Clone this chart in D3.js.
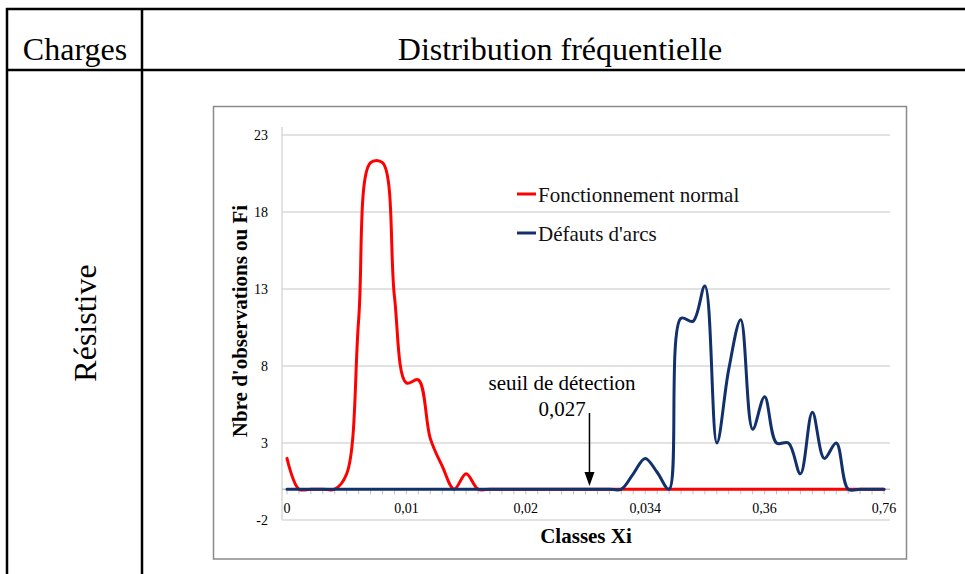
<!DOCTYPE html>
<html>
<head>
<meta charset="utf-8">
<script src="https://cdn.jsdelivr.net/npm/d3@7/dist/d3.min.js"></script>
<style>
  html, body { margin: 0; padding: 0; background: #fff; }
  svg { display: block; }
  svg text { font-family: "Liberation Serif", "Times New Roman", serif; }
</style>
</head>
<body>
<svg id="chart" width="965" height="574"></svg>
<script>
// ---- data ----
const categoryIndex = d3.range(51);
const tickIndices = [0, 10, 20, 30, 40, 50];
const tickLabels = ["0", "0,01", "0,02", "0,034", "0,36", "0,76"];
const yTicks = [-2, 3, 8, 13, 18, 23];

const normalValues = [2.0, 0, 0, 0, 0, 1.0, 11.0, 21.2, 21.2, 12.5,
  6.9, 7.1, 3.3, 1.5, 0, 1.0, 0, 0, 0, 0,
  0, 0, 0, 0, 0, 0, 0, 0, 0, 0,
  0, 0, 0, 0, 0, 0, 0, 0, 0, 0,
  0, 0, 0, 0, 0, 0, 0, 0, 0, 0, 0];
const arcValues = [0, 0, 0, 0, 0, 0, 0, 0, 0, 0,
  0, 0, 0, 0, 0, 0, 0, 0, 0, 0,
  0, 0, 0, 0, 0, 0, 0, 0, 0, 1.0,
  2.0, 1.1, 0, 11.1, 10.9, 13.2, 3.0, 7.8, 11.0, 3.9,
  6.0, 3.0, 3.0, 1.0, 5.0, 2.0, 3.0, 0, 0, 0, 0];
const seriesNames = ["Fonctionnement normal", "Défauts d'arcs"];
const seriesColors = ["#ff0000", "#12306b"];
const threshold = { label1: "seuil de détection", label2: "0,027", index: 25.5 };

// ---- drawing ----
const svg = d3.select("#chart");
const FONT = "Liberation Serif";

// table
const tbl = svg.append("g").attr("stroke", "#000").attr("stroke-width", 2.5);
tbl.append("line").attr("x1", 6).attr("x2", 965).attr("y1", 9).attr("y2", 9);
tbl.append("line").attr("x1", 6).attr("x2", 965).attr("y1", 70).attr("y2", 70);
tbl.append("line").attr("x1", 7).attr("x2", 7).attr("y1", 8).attr("y2", 574);
tbl.append("line").attr("x1", 142).attr("x2", 142).attr("y1", 8).attr("y2", 574);

svg.append("text").attr("x", 75).attr("y", 60).attr("text-anchor", "middle")
  .attr("font-family", FONT).attr("font-size", 32).text("Charges");
svg.append("text").attr("x", 560).attr("y", 60).attr("text-anchor", "middle")
  .attr("font-family", FONT).attr("font-size", 32).text("Distribution fréquentielle");
svg.append("text").attr("transform", "translate(96,323) rotate(-90)")
  .attr("text-anchor", "middle").attr("font-family", FONT).attr("font-size", 32).text("Résistive");

// chart frame
svg.append("rect").attr("x", 213.5).attr("y", 106.5).attr("width", 693).attr("height", 452.5)
  .attr("fill", "#fff").attr("stroke", "#8a8a8a").attr("stroke-width", 1.5);

const x = d3.scaleLinear().domain([0, 50]).range([287, 884]);
const y = d3.scaleLinear().domain([-2, 23]).range([520, 135]);
const plotLeft = 282, plotRight = 890;

// gridlines
svg.append("g").selectAll("line").data(yTicks).join("line")
  .attr("x1", plotLeft).attr("x2", plotRight)
  .attr("y1", d => y(d)).attr("y2", d => y(d))
  .attr("stroke", "#d9d9d9").attr("stroke-width", 1.5);

// y axis line
svg.append("line").attr("x1", plotLeft).attr("x2", plotLeft)
  .attr("y1", y(23) - 8).attr("y2", y(-2))
  .attr("stroke", "#d9d9d9").attr("stroke-width", 1.5);

// y tick labels
svg.append("g").selectAll("text").data(yTicks).join("text")
  .attr("x", 268).attr("y", d => y(d) + 5).attr("text-anchor", "end")
  .attr("font-family", FONT).attr("font-size", 14).text(d => d);

// x axis line at 0 with tick marks
svg.append("line").attr("x1", plotLeft).attr("x2", plotRight)
  .attr("y1", y(0)).attr("y2", y(0)).attr("stroke", "#bfbfbf").attr("stroke-width", 1.5);
svg.append("g").selectAll("line").data(categoryIndex).join("line")
  .attr("x1", d => x(d)).attr("x2", d => x(d))
  .attr("y1", y(0)).attr("y2", y(0) + 5)
  .attr("stroke", "#bfbfbf").attr("stroke-width", 1);

// x tick labels
svg.append("g").selectAll("text").data(tickIndices).join("text")
  .attr("x", d => x(d)).attr("y", 513).attr("text-anchor", "middle")
  .attr("font-family", FONT).attr("font-size", 14).text((d, i) => tickLabels[i]);

// lines (Excel-like smoothing)
const line = d3.line().x((d, i) => x(i)).y(d => y(d)).curve(d3.curveCatmullRom.alpha(0.5));
[normalValues, arcValues].forEach((vals, k) => {
  svg.append("path").datum(vals).attr("d", line)
    .attr("fill", "none").attr("stroke", seriesColors[k]).attr("stroke-width", 3)
    .attr("stroke-linejoin", "round").attr("stroke-linecap", "round");
});

// legend
const leg = svg.append("g");
seriesNames.forEach((name, k) => {
  const ly = [194, 233][k];
  leg.append("line").attr("x1", 517).attr("x2", 536).attr("y1", ly).attr("y2", ly)
    .attr("stroke", seriesColors[k]).attr("stroke-width", 3);
  leg.append("text").attr("x", 538).attr("y", ly + 8).attr("font-size", 21)
    .attr("font-family", FONT).attr("fill", "#111").text(name);
});

// threshold annotation
const ax = x(threshold.index) - 2;
svg.append("text").attr("x", 562).attr("y", 390).attr("text-anchor", "middle")
  .attr("font-family", FONT).attr("font-size", 21).text(threshold.label1);
svg.append("text").attr("x", 562).attr("y", 416).attr("text-anchor", "middle")
  .attr("font-family", FONT).attr("font-size", 21).text(threshold.label2);
svg.append("line").attr("x1", ax).attr("x2", ax).attr("y1", 413).attr("y2", 474)
  .attr("stroke", "#000").attr("stroke-width", 1.5);
svg.append("path").attr("d", `M${ax - 5},${472} L${ax + 5},${472} L${ax},${486} Z`).attr("fill", "#000");

// axis titles
svg.append("text").attr("x", 586).attr("y", 543).attr("text-anchor", "middle")
  .attr("font-family", FONT).attr("font-size", 21).attr("font-weight", "bold").text("Classes Xi");
svg.append("text").attr("transform", "translate(247,321) rotate(-90)")
  .attr("text-anchor", "middle").attr("font-family", FONT).attr("font-size", 21).attr("font-weight", "bold")
  .text("Nbre d'observations ou Fi");
</script>
</body>
</html>
